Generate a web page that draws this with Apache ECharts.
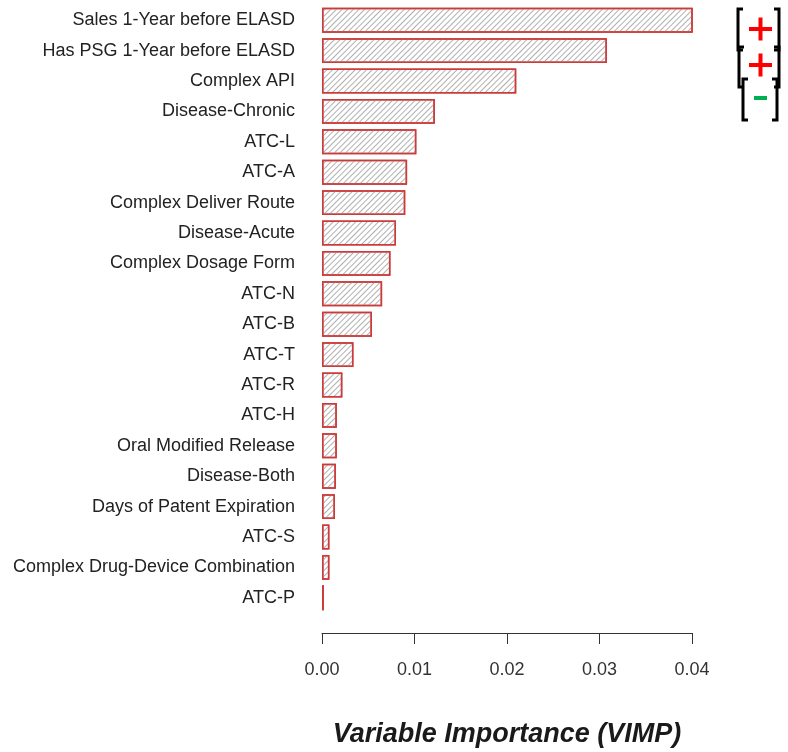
<!DOCTYPE html>
<html>
<head>
<meta charset="utf-8">
<script src="https://cdn.jsdelivr.net/npm/echarts@6/dist/echarts.min.js"></script>
</head>
<body style="margin:0;background:#fff;">
<div id="main" style="width:788px;height:752px;"></div>
<script type="text/javascript">
    // variables, top to bottom
    var variables = [
        'Sales 1-Year before ELASD', 'Has PSG 1-Year before ELASD', 'Complex API',
        'Disease-Chronic', 'ATC-L', 'ATC-A', 'Complex Deliver Route', 'Disease-Acute',
        'Complex Dosage Form', 'ATC-N', 'ATC-B', 'ATC-T', 'ATC-R', 'ATC-H',
        'Oral Modified Release', 'Disease-Both', 'Days of Patent Expiration', 'ATC-S',
        'Complex Drug-Device Combination', 'ATC-P'
    ];
    // VIMP values
    var vimp = [
        0.0402, 0.0308, 0.0210, 0.0122, 0.0102, 0.0092, 0.0090, 0.0080,
        0.0074, 0.0065, 0.0054, 0.0034, 0.0022, 0.0016, 0.0016, 0.0015,
        0.0014, 0.0008, 0.0008, 0.0002
    ];
    var xTicks = [0, 0.01, 0.02, 0.03, 0.04];

    var myChart = echarts.init(document.getElementById('main'));

    var option = {
        animation: false,
        backgroundColor: '#fff',
        grid: { left: 322, right: 96, top: 5, bottom: 139, containLabel: false, outerBoundsMode: 'none' },
        xAxis: {
            type: 'value',
            min: xTicks[0],
            max: xTicks[xTicks.length - 1],
            interval: 0.01,
            offset: 20,
            axisLine: { show: true, lineStyle: { color: '#333', width: 1 } },
            axisTick: { show: true, length: 11, lineStyle: { color: '#333' } },
            splitLine: { show: false },
            axisLabel: {
                margin: 28, fontSize: 18, color: '#333', fontFamily: 'Liberation Sans',
                formatter: function (v) { return v.toFixed(2); }
            },
            name: 'Variable Importance (VIMP)',
            nameLocation: 'middle',
            nameGap: 88,
            nameTextStyle: {
                fontSize: 27, fontWeight: 'bold', fontStyle: 'italic',
                color: '#1a1a1a', fontFamily: 'Liberation Sans'
            }
        },
        yAxis: {
            type: 'category',
            data: variables,
            inverse: true,
            axisLine: { show: false },
            axisTick: { show: false },
            axisLabel: { margin: 27, fontSize: 18, color: '#222', fontFamily: 'Liberation Sans' }
        },
        series: [{
            type: 'bar',
            data: vimp,
            barCategoryGap: '18%',
            itemStyle: {
                color: '#ffffff',
                borderColor: '#cc3a3a',
                borderWidth: 1.5,
                decal: {
                    symbol: 'rect',
                    symbolSize: 1,
                    color: '#b0b0b0',
                    dashArrayX: [1, 0],
                    dashArrayY: [1, 3],
                    rotation: -Math.PI / 4
                }
            }
        }],
        graphic: [
            // brackets
            { type: 'polyline', shape: { points: [[743, 9], [738, 9], [738, 50], [743, 50]] }, style: { stroke: '#000', lineWidth: 3, fill: null } },
            { type: 'polyline', shape: { points: [[774, 9], [779, 9], [779, 50], [774, 50]] }, style: { stroke: '#000', lineWidth: 3, fill: null } },
            { type: 'polyline', shape: { points: [[744, 47], [739, 47], [739, 87], [744, 87]] }, style: { stroke: '#000', lineWidth: 3, fill: null } },
            { type: 'polyline', shape: { points: [[774, 47], [779, 47], [779, 87], [774, 87]] }, style: { stroke: '#000', lineWidth: 3, fill: null } },
            { type: 'polyline', shape: { points: [[748, 79], [743, 79], [743, 120], [748, 120]] }, style: { stroke: '#000', lineWidth: 3, fill: null } },
            { type: 'polyline', shape: { points: [[772, 79], [777, 79], [777, 120], [772, 120]] }, style: { stroke: '#000', lineWidth: 3, fill: null } },
            // signs
            { type: 'rect', shape: { x: 749, y: 27, width: 23, height: 4 }, style: { fill: '#ff0000' } },
            { type: 'rect', shape: { x: 758.5, y: 17.5, width: 4, height: 23 }, style: { fill: '#ff0000' } },
            { type: 'rect', shape: { x: 749, y: 63, width: 23, height: 4 }, style: { fill: '#ff0000' } },
            { type: 'rect', shape: { x: 758.5, y: 53.5, width: 4, height: 23 }, style: { fill: '#ff0000' } },
            { type: 'rect', shape: { x: 754, y: 96, width: 13, height: 4 }, style: { fill: '#00b050' } }
        ]
    };

    myChart.setOption(option);
</script>
</body>
</html>
